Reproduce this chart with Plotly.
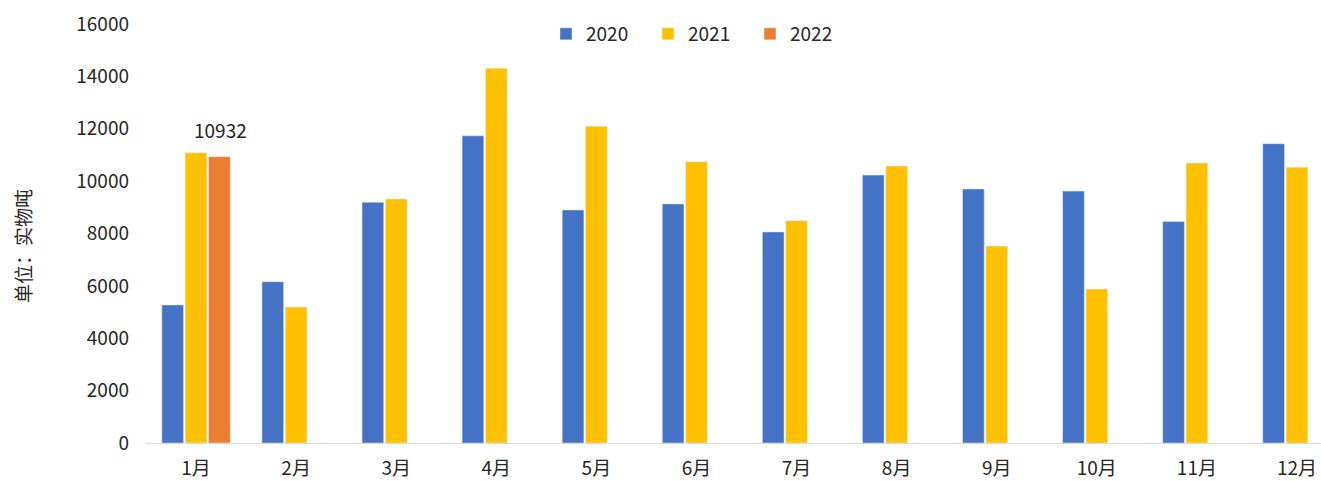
import plotly.graph_objects as go

months = ["1月", "2月", "3月", "4月", "5月", "6月", "7月", "8月", "9月", "10月", "11月", "12月"]
v2020 = [5270, 6160, 9190, 11730, 8900, 9130, 8060, 10230, 9700, 9620, 8460, 11430]
v2021 = [11080, 5190, 9320, 14310, 12100, 10740, 8490, 10580, 7520, 5880, 10690, 10530]
months2022 = ["1月"]
v2022 = [10932]

FONT = "Noto Sans CJK SC, Noto Sans, sans-serif"
TXT = "#262626"

fig = go.Figure()
fig.add_trace(go.Bar(name="2020", x=months, y=v2020, marker_color="#4472C4"))
fig.add_trace(go.Bar(name="2021", x=months, y=v2021, marker_color="#FFC000"))
fig.add_trace(go.Bar(name="2022", x=months2022, y=v2022, marker_color="#ED7D31"))

# data label for 2022
fig.add_annotation(x=months2022[0], y=v2022[0], text=str(v2022[0]), showarrow=False,
                   xshift=24, yshift=12, yanchor="bottom",
                   font=dict(family=FONT, size=19, color=TXT))

# y axis title
fig.add_annotation(xref="paper", yref="paper", x=(22 - 146) / 1175, y=(443 - 246) / 419,
                   text="单位：实物吨", textangle=-90, showarrow=False,
                   xanchor="center", yanchor="middle",
                   font=dict(family=FONT, size=19, color=TXT))

fig.update_layout(
    width=1321, height=481,
    margin=dict(l=146, r=0, t=24, b=38, autoexpand=False),
    paper_bgcolor="white", plot_bgcolor="white",
    barmode="group", bargap=0.3, bargroupgap=0.07,
    font=dict(family=FONT, size=19, color=TXT),
    legend=dict(orientation="h", x=(546 - 146) / 1175, xanchor="left", y=(443 - 34) / 419, yanchor="middle",
                font=dict(family=FONT, size=19, color=TXT), itemwidth=30,
                entrywidth=57, entrywidthmode="pixels",
                traceorder="normal", bgcolor="rgba(0,0,0,0)"),
    showlegend=True,
)
fig.update_xaxes(range=[-0.5, 11.24], showline=True, linecolor="#D9D9D9", linewidth=1,
                 ticks="", showgrid=False, ticklabelstandoff=8, automargin=False,
                 tickfont=dict(family=FONT, size=19, color=TXT))
fig.update_yaxes(range=[0, 16000], dtick=2000, showgrid=False, zeroline=False,
                 showline=False, ticks="", ticklabelstandoff=16, tickformat="d", automargin=False,
                 tickfont=dict(family=FONT, size=19, color=TXT))

fig.write_html("out.html", config={"displayModeBar": False})

with open("out.html", "r", encoding="utf-8") as f:
    html = f.read()
html = html.replace("<head>", "<head><style>html,body{margin:0;padding:0;overflow:hidden;}</style>", 1)
with open("out.html", "w", encoding="utf-8") as f:
    f.write(html)
